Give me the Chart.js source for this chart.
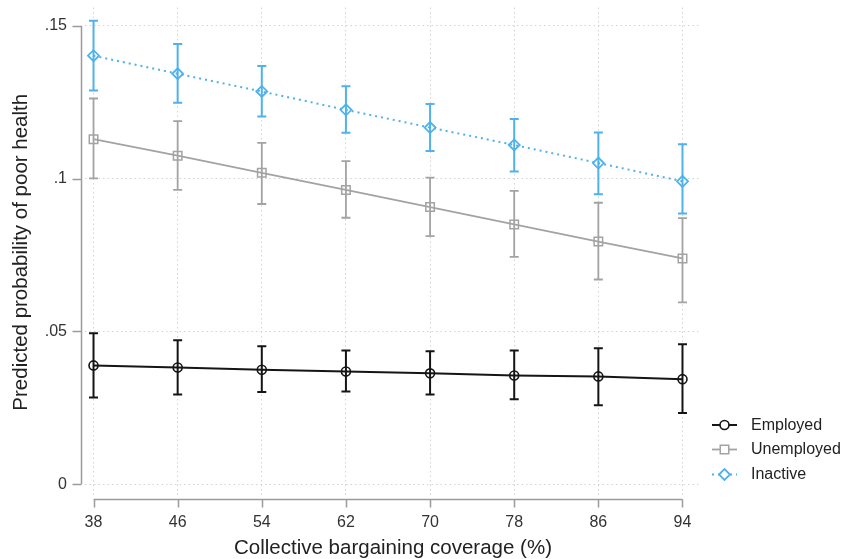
<!DOCTYPE html>
<html>
<head>
<meta charset="utf-8">
<script src="https://cdn.jsdelivr.net/npm/chart.js@4.4.1/dist/chart.umd.min.js"></script>
<style>
  html, body { margin: 0; padding: 0; background: #ffffff; }
  canvas { display: block; }
</style>
</head>
<body>
<canvas id="chart" width="844" height="559"></canvas>
<script>
// Collective bargaining coverage (%) at which predictions are evaluated
const coverage = [38, 46, 54, 62, 70, 78, 86, 94];

// Predicted probability of poor health, with 95% confidence limits
const employed    = [0.0389, 0.0382, 0.0375, 0.0369, 0.0363, 0.0356, 0.0353, 0.0344];
const employedLo  = [0.0284, 0.0294, 0.0302, 0.0304, 0.0294, 0.0278, 0.0259, 0.0233];
const employedHi  = [0.0494, 0.0471, 0.0452, 0.0438, 0.0435, 0.0438, 0.0445, 0.0458];

const unemployed   = [0.1129, 0.1075, 0.1019, 0.0963, 0.0907, 0.0850, 0.0794, 0.0739];
const unemployedLo = [0.1001, 0.0963, 0.0917, 0.0872, 0.0812, 0.0744, 0.0670, 0.0595];
const unemployedHi = [0.1262, 0.1188, 0.1117, 0.1057, 0.1003, 0.0960, 0.0921, 0.0871];

const inactive   = [0.1402, 0.1343, 0.1285, 0.1225, 0.1167, 0.1110, 0.1051, 0.0991];
const inactiveLo = [0.1288, 0.1248, 0.1203, 0.1150, 0.1090, 0.1023, 0.0949, 0.0886];
const inactiveHi = [0.1516, 0.1440, 0.1368, 0.1302, 0.1244, 0.1195, 0.1151, 0.1112];

const yTickValues = [0, 0.05, 0.1, 0.15];
const xTickValues = coverage;

const seriesLabels = ['Employed', 'Unemployed', 'Inactive'];
const intervals = [
  [employedLo, employedHi],
  [unemployedLo, unemployedHi],
  [inactiveLo, inactiveHi]
];

const FONT = "'Liberation Sans', Arial, Helvetica, sans-serif";
const AXIS_COLOR = '#9b9b9b';
const GRID_COLOR = '#d2d2d2';

const toPoints = (vals) => vals.map((v, i) => ({ x: coverage[i], y: v }));

// Confidence-interval caps drawn underneath each series
const errorBars = {
  id: 'errorBars',
  beforeDatasetsDraw(chart) {
    const { ctx, scales: { x, y } } = chart;
    const cap = 4.5;
    chart.data.datasets.forEach((ds, di) => {
      const [lo, hi] = intervals[di];
      ctx.save();
      ctx.strokeStyle = ds.borderColor;
      ctx.lineWidth = ds.barWidth;
      ctx.setLineDash([]);
      coverage.forEach((c, i) => {
        const px = x.getPixelForValue(c);
        const pl = y.getPixelForValue(lo[i]);
        const ph = y.getPixelForValue(hi[i]);
        ctx.beginPath();
        ctx.moveTo(px, pl); ctx.lineTo(px, ph);
        ctx.moveTo(px - cap, pl); ctx.lineTo(px + cap, pl);
        ctx.moveTo(px - cap, ph); ctx.lineTo(px + cap, ph);
        ctx.stroke();
      });
      ctx.restore();
    });
  }
};

// Offset axis lines spanning only the labelled range
const offsetAxes = {
  id: 'offsetAxes',
  afterDraw(chart) {
    const { ctx, chartArea, scales: { x, y } } = chart;
    ctx.save();
    ctx.strokeStyle = AXIS_COLOR;
    ctx.lineWidth = 1.5;
    ctx.setLineDash([]);
    const ax = chartArea.left - 3.5;
    const y0 = y.getPixelForValue(yTickValues[0]);
    const y1 = y.getPixelForValue(yTickValues[yTickValues.length - 1]);
    ctx.beginPath();
    ctx.moveTo(ax, y0); ctx.lineTo(ax, y1);
    yTickValues.forEach(v => {
      const py = Math.round(y.getPixelForValue(v)) + 0.5;
      ctx.moveTo(ax - 9, py); ctx.lineTo(ax, py);
    });
    ctx.stroke();

    const ay = chartArea.bottom + 2.5;
    const x0 = x.getPixelForValue(xTickValues[0]);
    const x1 = x.getPixelForValue(xTickValues[xTickValues.length - 1]);
    ctx.beginPath();
    ctx.moveTo(x0, ay); ctx.lineTo(x1, ay);
    xTickValues.forEach(v => {
      const px = Math.round(x.getPixelForValue(v)) + 0.5;
      ctx.moveTo(px, ay); ctx.lineTo(px, ay + 8);
    });
    ctx.stroke();
    ctx.restore();
  }
};

// Legend in the lower right, built from the dataset styles
const sideLegend = {
  id: 'sideLegend',
  afterDraw(chart) {
    const { ctx } = chart;
    const x0 = 712, x1 = 737, xm = 724.5, tx = 751;
    const rows = [425, 449.5, 474.5];
    chart.data.datasets.forEach((ds, i) => {
      const yy = rows[i];
      ctx.save();
      ctx.strokeStyle = ds.borderColor;
      ctx.lineWidth = ds.borderWidth;
      ctx.setLineDash(ds.borderDash || []);
      ctx.beginPath();
      ctx.moveTo(x0, yy); ctx.lineTo(x1, yy);
      ctx.stroke();
      ctx.setLineDash([]);
      ctx.fillStyle = '#ffffff';
      ctx.lineWidth = ds.pointBorderWidth;
      Chart.helpers.drawPoint(ctx, {
        pointStyle: ds.pointStyle,
        radius: ds.pointRadius,
        borderWidth: ds.pointBorderWidth,
        rotation: 0
      }, xm, yy);
      ctx.fillStyle = '#222222';
      ctx.font = '16px ' + FONT;
      ctx.textBaseline = 'middle';
      ctx.textAlign = 'left';
      ctx.fillText(ds.label, tx, yy + 0.5);
      ctx.restore();
    });
  }
};

// Fixed axis sizes so the plotting area does not shift with label sizes
const fixX = (s) => { s.height = 62; s.paddingLeft = 0; s.paddingRight = 0; s.paddingTop = 0; s.paddingBottom = 0; };
const fixY = (s) => { s.width = 85; s.paddingLeft = 0; s.paddingRight = 0; s.paddingTop = 0; s.paddingBottom = 0; };

new Chart(document.getElementById('chart'), {
  type: 'line',
  data: {
    datasets: [
      {
        label: seriesLabels[0],
        data: toPoints(employed),
        borderColor: '#151515',
        borderWidth: 2,
        barWidth: 2,
        pointStyle: 'circle',
        pointRadius: 4.5,
        pointBorderWidth: 1.6,
        pointBackgroundColor: 'rgba(255,255,255,0)',
        pointBorderColor: '#151515',
        tension: 0
      },
      {
        label: seriesLabels[1],
        data: toPoints(unemployed),
        borderColor: '#a3a3a3',
        borderWidth: 1.8,
        barWidth: 1.8,
        pointStyle: 'rect',
        pointRadius: 6,
        pointBorderWidth: 1.5,
        pointBackgroundColor: 'rgba(255,255,255,0)',
        pointBorderColor: '#a3a3a3',
        tension: 0
      },
      {
        label: seriesLabels[2],
        data: toPoints(inactive),
        borderColor: '#4fb2ea',
        borderWidth: 2,
        barWidth: 2,
        borderDash: [2, 4],
        pointStyle: 'rectRot',
        pointRadius: 5.5,
        pointBorderWidth: 1.8,
        pointBackgroundColor: 'rgba(255,255,255,0)',
        pointBorderColor: '#4fb2ea',
        tension: 0
      }
    ]
  },
  options: {
    responsive: false,
    animation: false,
    layout: { padding: { top: 6, right: 143, bottom: 0, left: 0 } },
    plugins: {
      legend: { display: false },
      tooltip: { enabled: false }
    },
    scales: {
      x: {
        type: 'linear',
        min: 37.19,
        max: 95.76,
        afterBuildTicks: (s) => { s.ticks = xTickValues.map(v => ({ value: v })); },
        afterFit: fixX,
        grid: { color: GRID_COLOR, lineWidth: 1, drawTicks: false },
        border: { display: false, dash: [1.5, 3] },
        ticks: {
          padding: 16,
          color: '#333333',
          font: { family: FONT, size: 16 },
          maxRotation: 0,
          callback: (v) => String(v)
        },
        title: {
          display: true,
          text: 'Collective bargaining coverage (%)',
          color: '#222222',
          font: { family: FONT, size: 20.5, lineHeight: 1 },
          padding: { top: 0, bottom: 0 }
        }
      },
      y: {
        type: 'linear',
        min: -0.00414,
        max: 0.15597,
        afterBuildTicks: (s) => { s.ticks = yTickValues.map(v => ({ value: v })); },
        afterFit: fixY,
        grid: { color: GRID_COLOR, lineWidth: 1, drawTicks: false },
        border: { display: false, dash: [1.5, 3] },
        ticks: {
          padding: 18,
          color: '#333333',
          font: { family: FONT, size: 16 },
          callback: (v) => v === 0 ? '0' : String(v).replace(/^0/, '')
        },
        title: {
          display: true,
          text: 'Predicted probability of poor health',
          color: '#222222',
          font: { family: FONT, size: 20.5, lineHeight: 1.2 },
          padding: { top: 9, bottom: 0 }
        }
      }
    }
  },
  plugins: [errorBars, offsetAxes, sideLegend]
});
</script>
</body>
</html>
